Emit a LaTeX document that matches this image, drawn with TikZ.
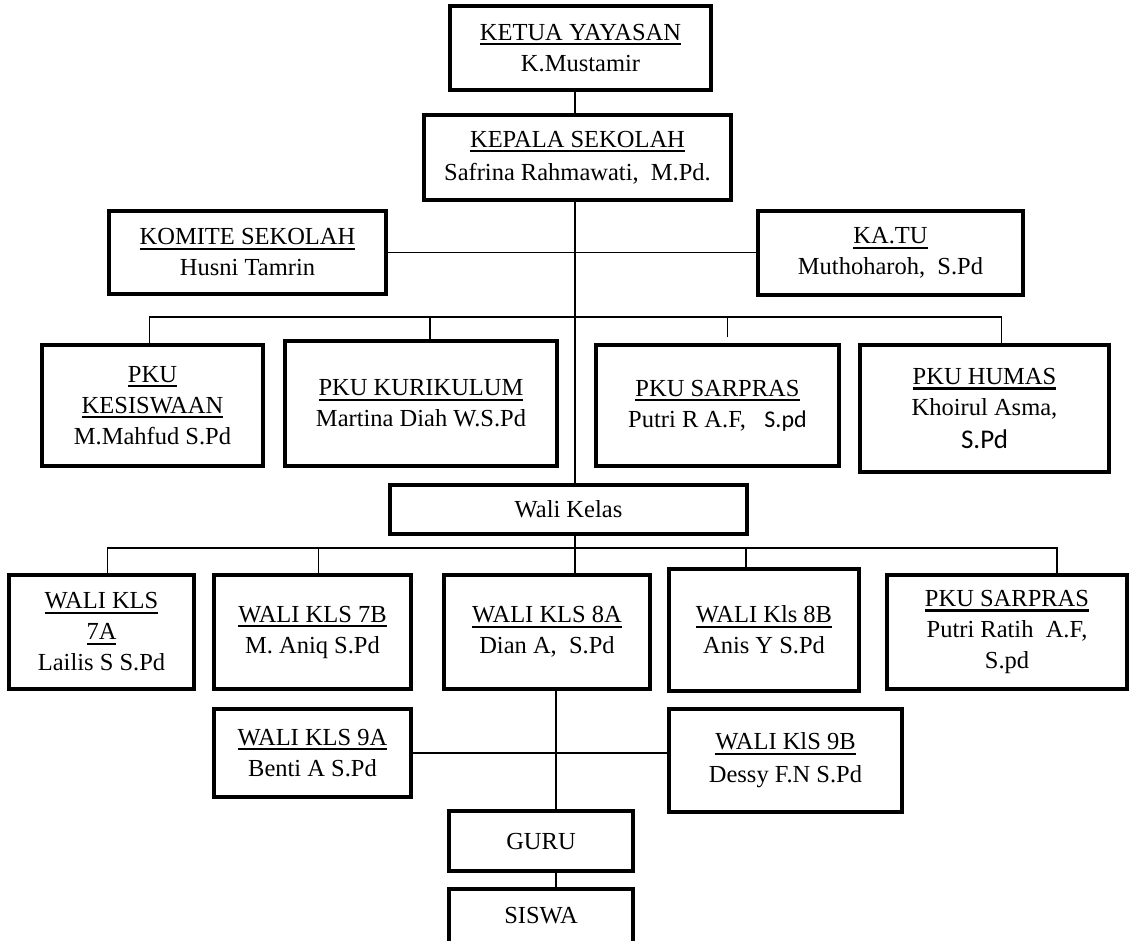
\documentclass[tikz,border=0pt]{standalone}
\usepackage{fontspec}
\setmainfont{Liberation Serif}
\newfontfamily\calibri{Carlito}
\newcommand{\judul}[1]{\setbox0\hbox{#1}\rlap{\rule[-5pt]{\wd0}{2.2pt}}\box0}

\begin{document}
\begin{tikzpicture}[x=1pt,y=-1pt,
    kotak/.style={draw,fill=white,line width=4pt,align=center,inner sep=0pt,
      font=\fontsize{24.5}{31}\selectfont},
    garis/.style={line width=1.4pt}]
  \useasboundingbox (0,0) rectangle (1131,941);
  \node[kotak,minimum width=261,minimum height=84](ketua) at (580.5,48)
    {\judul{KETUA YAYASAN}\\K.Mustamir};
  \node[kotak,minimum width=307,minimum height=85](kepala) at (577.5,157.5)
    {\judul{KEPALA SEKOLAH}\\[2pt]Safrina Rahmawati,\ \ M.Pd.};
  \node[kotak,minimum width=277,minimum height=83](komite) at (247.5,252.5)
    {\judul{KOMITE SEKOLAH}\\Husni Tamrin};
  \node[kotak,minimum width=265,minimum height=84](katu) at (890.5,253)
    {\judul{KA.TU}\\Muthoharoh,\ \ S.Pd};
  % PKU
  \node[kotak,minimum width=221,minimum height=121](kesiswaan) at (152.5,405.5)
    {\judul{PKU}\\\judul{KESISWAAN}\\M.Mahfud S.Pd};
  \node[kotak,minimum width=272,minimum height=125](kurikulum) at (421,403.5)
    {\judul{PKU KURIKULUM}\\Martina Diah W.S.Pd};
  \node[kotak,minimum width=243,minimum height=121](sarpras) at (717.5,405.5)
    {\judul{PKU SARPRAS}\\Putri R A.F,\ \ \ {\calibri\fontsize{24}{31}\selectfont S.pd}};
  \node[kotak,minimum width=249,minimum height=127](humas) at (984.5,408.5)
    {\judul{PKU HUMAS}\\Khoirul Asma,\\[2pt]{\calibri\fontsize{27}{31}\selectfont S.Pd}};
  \node[kotak,minimum width=357,minimum height=49](walikelas) at (568.5,509.5)
    {Wali Kelas};
  % wali kelas
  \node[kotak,minimum width=185,minimum height=114](kls7a) at (101.5,632)
    {\judul{WALI KLS}\\\judul{7A}\\Lailis S S.Pd};
  \node[kotak,minimum width=197,minimum height=114](kls7b) at (312.5,632)
    {\judul{WALI KLS 7B}\\M. Aniq S.Pd};
  \node[kotak,minimum width=206,minimum height=114](kls8a) at (547,632)
    {\judul{WALI KLS 8A}\\Dian A,\ \ S.Pd};
  \node[kotak,minimum width=190,minimum height=122](kls8b) at (764,630)
    {\judul{WALI Kls 8B}\\Anis Y S.Pd};
  \node[kotak,minimum width=240,minimum height=114](sarprasb) at (1007,632)
    {\judul{PKU SARPRAS}\\Putri Ratih\ \ A.F,\\S.pd};
  \node[kotak,minimum width=197,minimum height=88](kls9a) at (312.5,753)
    {\judul{WALI KLS 9A}\\Benti A S.Pd};
  \node[kotak,minimum width=233,minimum height=103](kls9b) at (785.5,760.5)
    {\judul{WALI KlS 9B}\\[2pt]Dessy F.N S.Pd};
  \node[kotak,minimum width=184,minimum height=60](guru) at (541,841) {GURU};
  \node[kotak,minimum width=184,minimum height=54](siswa) at (541,916) {SISWA};
  % garis
  \coordinate (tulang) at (575,0);
  \coordinate (poros) at (556,0);
  \coordinate (bus1) at (0,317);
  \coordinate (bus2) at (0,548);
  \coordinate (t1) at ([xshift=-3]kesiswaan.north);
  \coordinate (t2) at ([xshift=9]kurikulum.north);
  \coordinate (t3) at ([xshift=10,yshift=6]sarpras.north);
  \coordinate (t4) at ([xshift=17]humas.north);
  \coordinate (b1) at ([xshift=6]kls7a.north);
  \coordinate (b2) at ([xshift=6]kls7b.north);
  \coordinate (b3) at ([xshift=-18]kls8b.north);
  \coordinate (b4) at ([xshift=50]sarprasb.north);
  \draw[garis](ketua.south -| tulang)--(kepala.north -| tulang);
  \draw[garis](kepala.south -| tulang)--(walikelas.north -| tulang);
  \draw[garis](walikelas.south -| tulang)--(kls8a.north -| tulang);
  \draw[garis](komite.east)--(komite.east -| katu.west);
  \draw[garis](t1)|-(bus1 -| t4)--(t4);
  \draw[garis](t2)--(t2 |- bus1)(t3)--(t3 |- bus1);
  \draw[garis](b1)|-(bus2 -| b4)--(b4);
  \draw[garis](b2)--(b2 |- bus2)(b3)--(b3 |- bus2);
  \draw[garis](kls8a.south -| poros)--(guru.north -| poros)
    (guru.south -| poros)--(siswa.north -| poros);
  \draw[garis](kls9a.east)--(kls9a.east -| kls9b.west);
\end{tikzpicture}
\end{document}
